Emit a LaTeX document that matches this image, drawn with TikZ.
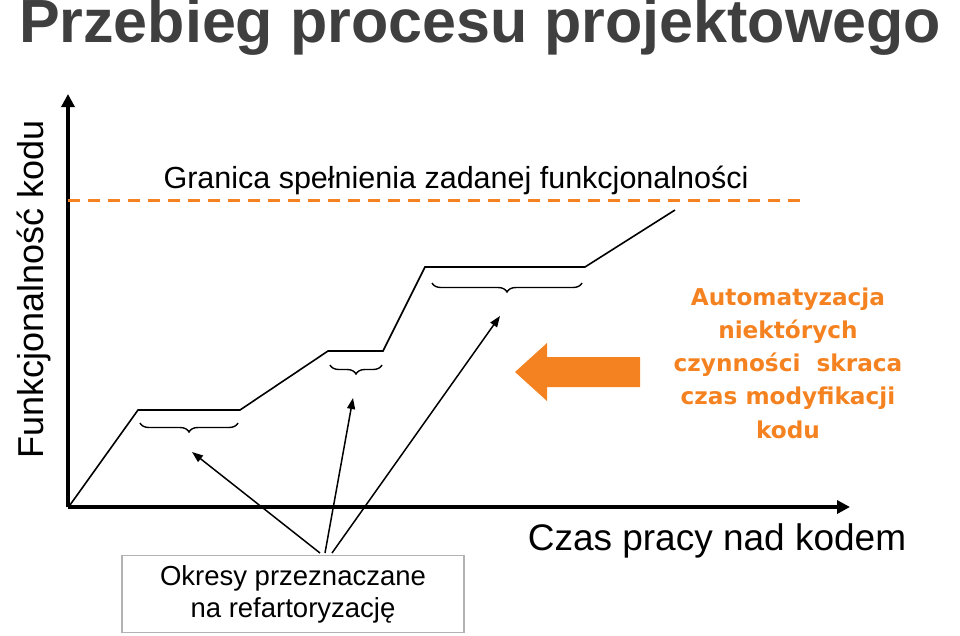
\documentclass[tikz,border=0pt]{standalone}
\usepackage{fontspec}
\setmainfont{Liberation Sans}
\newfontfamily\dvs{DejaVu Sans}
\usetikzlibrary{arrows.meta,decorations.pathreplacing}
\definecolor{org}{HTML}{F58220}
\definecolor{ttl}{HTML}{3F3F3F}
\tikzset{axis/.style={line width=3.5pt,-{Triangle[length=13pt,width=13pt]}},
 brc/.style={decorate,decoration={brace,mirror,amplitude=9pt},line width=1.4pt},
 pointer/.style={line width=1.5pt,-{Triangle[length=11pt,width=8pt]}}}
\begin{document}
\begin{tikzpicture}[x=1pt,y=-1pt]
\useasboundingbox (0,0) rectangle (960,635);
\node[font=\bfseries\fontsize{61}{61}\selectfont,text=ttl] (title) at (480,27) {Przebieg procesu projektowego};
\coordinate (o) at (68,507);
\coordinate (ytop) at (68,94);
\coordinate (xend) at (850,507);
\draw[axis] (o) -- (ytop);
\draw[axis] (o) -- (xend);
\node[rotate=90,font=\fontsize{36}{36}\selectfont] (ylab) at (34,289) {Funkcjonalność kodu};
\node[font=\fontsize{37}{37}\selectfont] (xlab) at (717,541) {Czas pracy nad kodem};
\coordinate (d1) at (68,200); \coordinate (d2) at (806,200);
\draw[org,line width=3pt,dash pattern=on 12pt off 8pt] (d1) -- (d2);
\node[font=\fontsize{30.5}{30.5}\selectfont] (gran) at (456,180) {Granica spełnienia zadanej funkcjonalności};
\draw[line width=1.6pt] (70,505) -- (138,410) -- (240,410) -- (328,351) -- (383,351) -- (425,267) -- (585,267) -- (675,210);
\draw[brc] (140,423) -- coordinate[yshift=-11pt] (b1) (238,423);
\draw[brc] (330,365) -- coordinate[yshift=-11pt] (b2) (382,365);
\draw[brc] (432,283) -- coordinate[yshift=-11pt] (b3) (582,283);
\node[draw=gray!60,line width=1.2pt,minimum width=342pt,minimum height=77pt,align=center,font=\fontsize{27.5}{32}\selectfont] (box) at (293,594) {Okresy przeznaczane\\na refartoryzację};
\coordinate (s1) at (320,553); \coordinate (s2) at (325,553); \coordinate (s3) at (332,553);
\coordinate (t1) at (192,452); \coordinate (t2) at (353,398); \coordinate (t3) at (500,316);
\draw[pointer] (s1) -- (t1);
\draw[pointer] (s2) -- (t2);
\draw[pointer] (s3) -- (t3);
\fill[org] (515,372) -- (547,343) -- (547,357) -- (640,357) -- (640,387) -- (547,387) -- (547,401) -- cycle;
\node[align=center,text=org,font=\dvs\bfseries\fontsize{23.2}{33.2}\selectfont] (auto) at (788,363) {Automatyzacja\\niektórych\\czynności~ skraca\\czas modyfikacji\\kodu};
\end{tikzpicture}
\end{document}
